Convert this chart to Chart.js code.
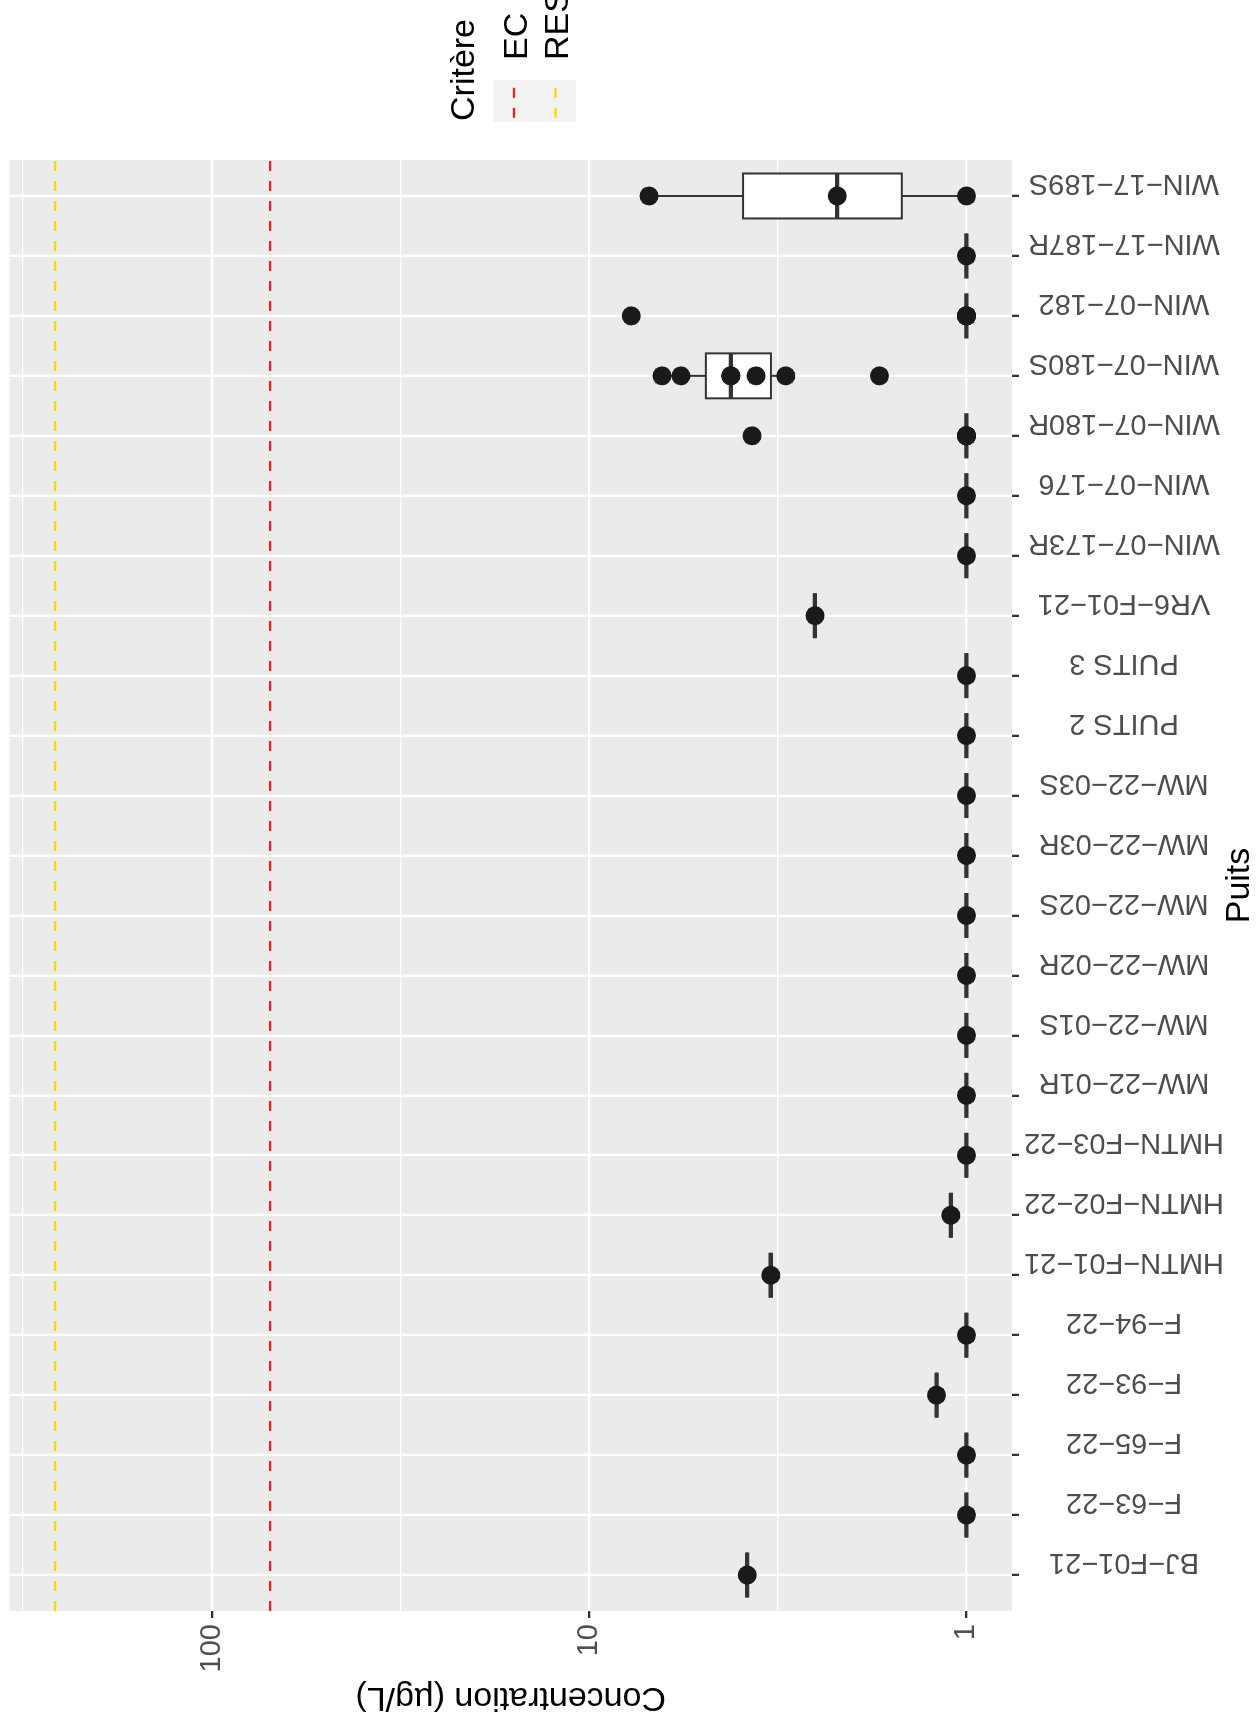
<!DOCTYPE html>
<html lang="fr">
<head>
<meta charset="utf-8">
<title>Concentration par puits</title>
<script src="https://cdn.jsdelivr.net/npm/chart.js@4"></script>
<style>
    html, body { margin: 0; padding: 0; width: 1257px; height: 1721px; overflow: hidden; background: #ffffff; }
    /* le graphique est dessiné à l'endroit puis tourné de 90° vers la gauche */
    #cadre { position: absolute; left: 0; top: 1721px; width: 1721px; height: 1257px; transform-origin: 0 0; transform: rotate(-90deg); }
</style>
</head>
<body>
<div id="cadre"><canvas id="graphique" width="1721" height="1257"></canvas></div>
<script>
// Données
const puits = ['BJ-F01-21', 'F-63-22', 'F-65-22', 'F-93-22', 'F-94-22', 'HMTN-F01-21', 'HMTN-F02-22', 'HMTN-F03-22',
    'MW-22-01R', 'MW-22-01S', 'MW-22-02R', 'MW-22-02S', 'MW-22-03R', 'MW-22-03S', 'PUITS 2', 'PUITS 3',
    'VR6-F01-21', 'WIN-07-173R', 'WIN-07-176', 'WIN-07-180R', 'WIN-07-180S', 'WIN-07-182', 'WIN-17-187R', 'WIN-17-189S'];

// concentrations mesurées (µg/L), une liste par puits
const mesures = [
    [3.81], [1], [1], [1.2], [1], [3.3], [1.1], [1],
    [1], [1], [1], [1], [1], [1], [1], [1],
    [2.52], [1], [1],
    [1, 1, 1, 1, 3.7],
    [1.7, 3.01, 3.61, 4.21, 4.21, 5.71, 6.41],
    [1, 1, 1, 1, 7.73],
    [1],
    [1, 2.2, 6.94]
];

const criteres = ['EC', 'RES'];
const seuils = [70, 260];
const couleursCriteres = ['#F01E24', '#FFD600'];

const graduations = [1, 10, 100];
const graduationsMineures = [3.162, 31.62, 316.2];

const POLICE = "'Liberation Sans', Arial, Helvetica, sans-serif";
const GRIS_TEXTE = '#4D4D4D';
const GRIS_TRAIT = '#333333';

// étendue des axes comme ggplot (5 % en log, 0.6 pour les catégories)
const toutes = mesures.flat().concat(seuils);
const logBas = Math.log10(Math.min(...toutes));
const logHaut = Math.log10(Math.max(...toutes));
const marge = (logHaut - logBas) * 0.05;
const yMin = Math.pow(10, logBas - marge);
const yMax = Math.pow(10, logHaut + marge);
const xMin = -0.6;
const xMax = puits.length - 1 + 0.6;

function quantile(tri, p) {
    const h = (tri.length - 1) * p;
    const b = Math.floor(h);
    const r = h - b;
    return tri[b] + (b + 1 < tri.length ? r * (tri[b + 1] - tri[b]) : 0);
}

// statistiques de boîte calculées sur l'échelle log, comme scale_y_log10
function statsBoite(valeurs) {
    const logs = valeurs.map(v => Math.log10(v)).sort((a, b) => a - b);
    const q1 = quantile(logs, 0.25);
    const med = quantile(logs, 0.5);
    const q3 = quantile(logs, 0.75);
    const eiq = q3 - q1;
    const dedans = logs.filter(v => v >= q1 - 1.5 * eiq && v <= q3 + 1.5 * eiq);
    const p = v => Math.pow(10, v);
    return { q1: p(q1), med: p(med), q3: p(q3), bas: p(Math.min(...dedans)), haut: p(Math.max(...dedans)) };
}

const points = [];
mesures.forEach((vals, i) => vals.forEach(v => points.push({ x: i, y: v })));

const fondPanneau = {
    id: 'fondPanneau',
    beforeDraw(chart) {
        const { ctx, chartArea: a } = chart;
        ctx.save();
        ctx.fillStyle = '#EBEBEB';
        ctx.fillRect(a.left, a.top, a.right - a.left, a.bottom - a.top);
        ctx.restore();
    }
};

const boites = {
    id: 'boites',
    beforeDatasetsDraw(chart) {
        const { ctx, scales: { x, y } } = chart;
        ctx.save();
        ctx.strokeStyle = GRIS_TRAIT;
        mesures.forEach((vals, i) => {
            const s = statsBoite(vals);
            const x0 = x.getPixelForValue(i - 0.375);
            const x1 = x.getPixelForValue(i + 0.375);
            const xc = x.getPixelForValue(i);
            const yq1 = y.getPixelForValue(s.q1);
            const yq3 = y.getPixelForValue(s.q3);

            ctx.lineWidth = 2;
            ctx.beginPath();
            ctx.moveTo(xc, yq1); ctx.lineTo(xc, y.getPixelForValue(s.bas));
            ctx.moveTo(xc, yq3); ctx.lineTo(xc, y.getPixelForValue(s.haut));
            ctx.stroke();

            ctx.fillStyle = '#FFFFFF';
            ctx.fillRect(x0, yq3, x1 - x0, yq1 - yq3);
            ctx.strokeRect(x0, yq3, x1 - x0, yq1 - yq3);

            ctx.lineWidth = 4.3;
            ctx.beginPath();
            ctx.moveTo(x0, y.getPixelForValue(s.med));
            ctx.lineTo(x1, y.getPixelForValue(s.med));
            ctx.stroke();
        });
        ctx.restore();
    }
};

// étiquettes des puits, tournées et centrées comme dans ggplot
const etiquettesPuits = {
    id: 'etiquettesPuits',
    afterDraw(chart) {
        const { ctx, chartArea: a, scales: { x } } = chart;
        const taille = 29;
        ctx.save();
        ctx.font = taille + 'px ' + POLICE;
        ctx.fillStyle = GRIS_TEXTE;
        ctx.textAlign = 'center';
        ctx.textBaseline = 'alphabetic';
        const textes = puits.map(p => p.replace(/-/g, '\u2212'));
        const largeurMax = Math.max(...textes.map(t => ctx.measureText(t).width));
        const centre = a.bottom + 7 + 5 + largeurMax / 2;
        textes.forEach((t, i) => {
            ctx.save();
            ctx.translate(x.getPixelForValue(i), centre);
            ctx.rotate(-Math.PI / 2);
            ctx.fillText(t, 0, taille * 0.72);
            ctx.restore();
        });
        ctx.restore();
    }
};

const legende = {
    id: 'legende',
    afterDraw(chart) {
        const { ctx, chartArea: a } = chart;
        const gauche = a.right + 38;
        const milieu = (a.top + a.bottom) / 2;
        const hCle = 41.5;
        const lCle = 42;
        const hautCles = milieu - 17.5;
        ctx.save();
        ctx.font = '34px ' + POLICE;
        ctx.textAlign = 'left';
        ctx.textBaseline = 'alphabetic';
        ctx.fillStyle = '#000000';
        ctx.fillText('Critère', gauche + 1, milieu - 36.5);

        ctx.fillStyle = '#F2F2F2';
        ctx.fillRect(gauche, hautCles, lCle, hCle * criteres.length);

        criteres.forEach((c, k) => {
            const yc = hautCles + k * hCle + hCle / 2;
            ctx.strokeStyle = couleursCriteres[k];
            ctx.lineWidth = 2.3;
            ctx.setLineDash([10, 10]);
            ctx.beginPath();
            ctx.moveTo(gauche + 0.1 * lCle, yc);
            ctx.lineTo(gauche + 0.9 * lCle, yc);
            ctx.stroke();
            ctx.setLineDash([]);
            ctx.fillStyle = '#000000';
            ctx.fillText(c, gauche + lCle + 20, yc + 12.5);
        });
        ctx.restore();
    }
};

Chart.defaults.font.family = POLICE;

const jeux = [{
    type: 'scatter',
    data: points,
    backgroundColor: '#1A1A1A',
    borderWidth: 0,
    pointRadius: 9.5,
    pointHoverRadius: 9.5
}];
criteres.forEach((c, k) => {
    jeux.push({
        type: 'line',
        label: c,
        data: [{ x: xMin, y: seuils[k] }, { x: xMax, y: seuils[k] }],
        borderColor: couleursCriteres[k],
        borderWidth: 2.3,
        borderDash: [10, 10],
        pointRadius: 0,
        fill: false
    });
});

new Chart(document.getElementById('graphique'), {
    type: 'scatter',
    data: { datasets: jeux },
    plugins: [fondPanneau, boites, etiquettesPuits, legende],
    options: {
        responsive: false,
        animation: false,
        events: [],
        devicePixelRatio: 1,
        layout: { padding: { top: 9, right: 160, bottom: 0, left: 0 } },
        plugins: {
            legend: { display: false },
            tooltip: { enabled: false }
        },
        scales: {
            x: {
                type: 'linear',
                min: xMin,
                max: xMax,
                bounds: 'data',
                afterBuildTicks: s => { s.ticks = puits.map((p, i) => ({ value: i })); },
                afterFit: s => { s.height = 245; s.paddingLeft = 0; s.paddingRight = 0; },
                border: { display: false },
                grid: { color: '#FFFFFF', lineWidth: 2.3, drawTicks: true, tickLength: 7, tickColor: GRIS_TRAIT, tickWidth: 2.3 },
                ticks: { display: false },
                title: {
                    display: true, text: 'Puits', color: '#000000',
                    font: { size: 34, lineHeight: 1 }, padding: { top: 0, bottom: 0 }
                }
            },
            y: {
                type: 'logarithmic',
                min: yMin,
                max: yMax,
                bounds: 'data',
                afterBuildTicks: s => {
                    s.ticks = graduations.concat(graduationsMineures).sort((a, b) => a - b).map(v => ({ value: v }));
                },
                afterFit: s => { s.width = 110; s.paddingTop = 0; s.paddingBottom = 0; },
                border: { display: false },
                grid: {
                    color: '#FFFFFF',
                    lineWidth: c => (c.tick && graduations.includes(c.tick.value) ? 2.3 : 1.3),
                    drawTicks: true,
                    tickLength: 7,
                    tickWidth: 2.3,
                    tickColor: c => (c.tick && graduations.includes(c.tick.value) ? GRIS_TRAIT : 'rgba(0,0,0,0)')
                },
                ticks: {
                    autoSkip: false,
                    padding: 6,
                    color: GRIS_TEXTE,
                    font: { size: 29 },
                    callback: v => (graduations.includes(v) ? String(v) : '')
                },
                title: {
                    display: true, text: 'Concentration (µg/L)', color: '#000000',
                    font: { size: 34, lineHeight: 1 }, padding: { top: 7, bottom: 0 }
                }
            }
        }
    }
});
</script>
</body>
</html>
